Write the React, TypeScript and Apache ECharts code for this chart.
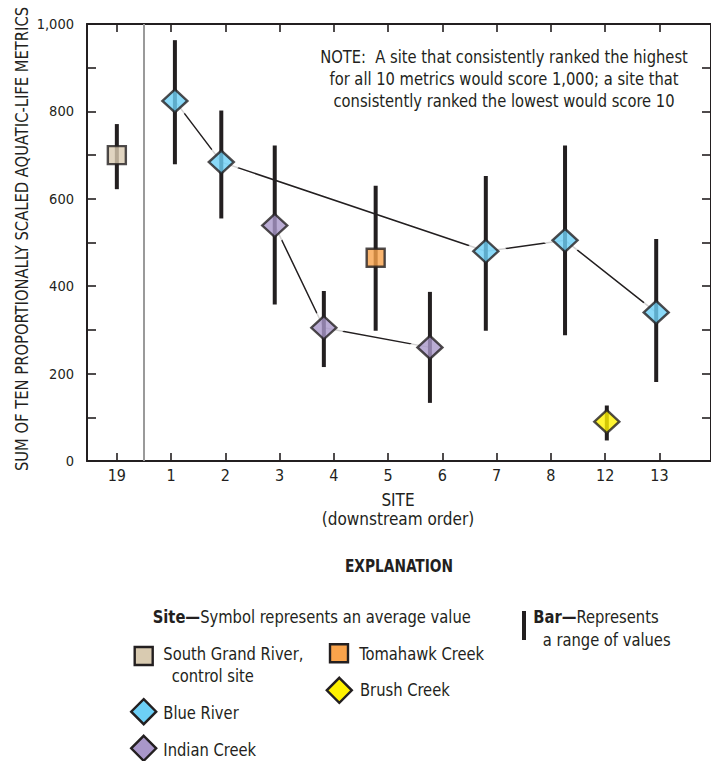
import React, { useEffect, useRef } from 'react';
import * as echarts from 'echarts';

// ---- data ----
const siteLabels = ['19', '1', '2', '3', '4', '5', '6', '7', '8', '12', '13'];
const sitePos = [0, 1.07, 1.925, 2.91, 3.815, 4.77, 5.77, 6.8, 8.26, 9.03, 9.94];
const siteMean = [700, 824, 684, 539, 305, 465, 260, 480, 505, 90, 340];
const siteLow = [622, 679, 555, 358, 215, 298, 133, 298, 288, 47, 181];
const siteHigh = [771, 963, 802, 722, 389, 630, 387, 652, 722, 127, 508];
const siteStream = [
  'South Grand River',
  'Blue River',
  'Blue River',
  'Indian Creek',
  'Indian Creek',
  'Tomahawk Creek',
  'Indian Creek',
  'Blue River',
  'Blue River',
  'Brush Creek',
  'Blue River',
];
const streams = ['South Grand River', 'Blue River', 'Indian Creek', 'Tomahawk Creek', 'Brush Creek'];
const connectedStreams = ['Blue River', 'Indian Creek'];
const yTickValues = [0, 100, 200, 300, 400, 500, 600, 700, 800, 900, 1000];

// ---- styles ----
const INK = '#231f20';
const FONT = "'Liberation Sans Narrow', 'DejaVu Sans Condensed', 'Arial Narrow', sans-serif";
const streamStyle: Record<string, { symbol: string; color: string }> = {
  'South Grand River': { symbol: 'rect', color: '#d9cbb1' },
  'Blue River': { symbol: 'diamond', color: '#6dcff6' },
  'Indian Creek': { symbol: 'diamond', color: '#a997c9' },
  'Tomahawk Creek': { symbol: 'rect', color: '#f9a34b' },
  'Brush Creek': { symbol: 'diamond', color: '#fff200' },
};

const pointsOf = (stream: string) =>
  siteLabels
    .map((_, i) => i)
    .filter((i) => siteStream[i] === stream)
    .map((i) => [sitePos[i], siteMean[i]]);

const LEG = { fontSize: 18, scaleX: 0.91 };
const BOLD_RICH = { b: { fontWeight: 'bold', fontFamily: FONT, fontSize: 18, fill: INK } };

const txt = (text: string, x: number, y: number, opts: any = {}) => ({
  type: 'text',
  x,
  y,
  rotation: opts.rotation || 0,
  scaleX: opts.scaleX || 1,
  silent: true,
  style: {
    text,
    fill: INK,
    fontFamily: FONT,
    fontSize: opts.fontSize || 18,
    fontWeight: opts.fontWeight || 'normal',
    textAlign: opts.align || 'left',
    align: opts.align || 'left',
    textVerticalAlign: opts.vAlign || 'middle',
    verticalAlign: opts.vAlign || 'middle',
    lineHeight: opts.lineHeight,
    rich: opts.rich,
  },
});

const diamond = (cx: number, cy: number, w: number, h: number, color: string) => ({
  type: 'polygon',
  silent: true,
  shape: {
    points: [
      [cx, cy - h / 2],
      [cx + w / 2, cy],
      [cx, cy + h / 2],
      [cx - w / 2, cy],
    ],
  },
  style: { fill: color, stroke: INK, lineWidth: 2.4 },
});

const square = (cx: number, cy: number, s: number, color: string) => ({
  type: 'rect',
  silent: true,
  shape: { x: cx - s / 2, y: cy - s / 2, width: s, height: s },
  style: { fill: color, stroke: INK, lineWidth: 2.4 },
});

export default function App() {
  const ref = useRef<HTMLDivElement>(null);

  useEffect(() => {
    if (!ref.current) return;
    const chart = echarts.init(ref.current, undefined, { renderer: 'svg' });

    const xCommon = {
      type: 'value',
      min: -0.55,
      max: 10.95,
      splitLine: { show: false },
      axisLine: { show: true, onZero: false, lineStyle: { color: INK, width: 2 } },
      axisTick: {
        show: true,
        inside: true,
        length: 8,
        customValues: siteLabels.map((_, i) => i),
        lineStyle: { color: INK, width: 1.6 },
      },
    };
    const yCommon = {
      type: 'value',
      min: 0,
      max: 1000,
      interval: 100,
      splitLine: { show: false },
      axisLine: { show: true, onZero: false, lineStyle: { color: INK, width: 2 } },
      axisTick: {
        show: true,
        inside: true,
        length: 9,
        customValues: yTickValues,
        lineStyle: { color: INK, width: 1.6 },
      },
    };

    const haloData = connectedStreams.flatMap((s) => pointsOf(s));

    const option: any = {
      animation: false,
      grid: { left: 87, top: 24, width: 625, height: 437 },
      xAxis: [
        {
          ...xCommon,
          position: 'bottom',
          axisLabel: {
            show: true,
            customValues: siteLabels.map((_, i) => i),
            formatter: (v: number) => siteLabels[Math.round(v)] ?? '',
            color: INK,
            fontFamily: FONT,
            fontSize: 16,
            margin: 6,
          },
        },
        { ...xCommon, position: 'top', axisLabel: { show: false } },
      ],
      yAxis: [
        {
          ...yCommon,
          position: 'left',
          axisLabel: {
            show: true,
            customValues: yTickValues.filter((v) => v % 200 === 0),
            formatter: (v: number) => (v >= 1000 ? v.toLocaleString('en-US') : String(v)),
            color: INK,
            fontFamily: FONT,
            fontSize: 14.5,
            margin: 13,
          },
        },
        { ...yCommon, position: 'right', axisLabel: { show: false } },
      ],
      series: [
        ...connectedStreams.map((s) => ({
          type: 'line',
          name: s + ' line',
          data: pointsOf(s),
          symbol: 'none',
          silent: true,
          z: 1,
          lineStyle: { color: INK, width: 1.5 },
        })),
        {
          type: 'scatter',
          name: 'halo',
          data: haloData,
          symbol: 'diamond',
          symbolSize: [46, 42],
          silent: true,
          z: 2,
          itemStyle: { color: '#ffffff', borderWidth: 0 },
        },
        {
          type: 'custom',
          name: 'range',
          z: 3,
          silent: true,
          data: sitePos.map((p, i) => [p, siteLow[i], siteHigh[i]]),
          encode: { x: 0, y: [1, 2] },
          renderItem: (params: any, api: any) => {
            const x = api.value(0);
            const top = api.coord([x, api.value(2)]);
            const bot = api.coord([x, api.value(1)]);
            return {
              type: 'rect',
              shape: { x: top[0] - 2, y: top[1], width: 4, height: bot[1] - top[1] },
              style: { fill: INK },
            };
          },
          markLine: {
            silent: true,
            symbol: ['none', 'none'],
            label: { show: false },
            lineStyle: { color: '#9a9a9a', width: 2, type: 'solid' },
            data: [{ xAxis: 0.5 }],
          },
        },
        ...streams.map((s) => ({
          type: 'scatter',
          name: s,
          data: pointsOf(s),
          symbol: streamStyle[s].symbol,
          symbolSize: streamStyle[s].symbol === 'rect' ? [18, 18] : [25, 23],
          silent: true,
          z: 4,
          itemStyle: { color: streamStyle[s].color, borderColor: INK, borderWidth: 2.4 },
        })),
      ],
      graphic: [
        txt('SUM OF TEN PROPORTIONALLY SCALED AQUATIC-LIFE METRICS', 21.5, 239, {
          rotation: Math.PI / 2,
          align: 'center',
          fontSize: 17,
          scaleX: 0.965,
        }),
        txt(
          'NOTE:  A site that consistently ranked the highest\nfor all 10 metrics would score 1,000; a site that\nconsistently ranked the lowest would score 10',
          504,
          46,
          { align: 'center', vAlign: 'top', fontSize: 17, lineHeight: 22.3, scaleX: 0.963 }
        ),
        txt('SITE', 398, 500, { align: 'center', fontSize: 17 }),
        txt('(downstream order)', 398, 519, { align: 'center', fontSize: 17 }),
        txt('EXPLANATION', 399, 566, { align: 'center', fontSize: 17, fontWeight: 'bold', scaleX: 0.9 }),
        txt('{b|Site—}Symbol represents an average value', 152.7, 617, { ...LEG, rich: BOLD_RICH }),
        {
          type: 'rect',
          silent: true,
          shape: { x: 522, y: 611, width: 4, height: 29 },
          style: { fill: INK },
        },
        txt('{b|Bar—}Represents', 533.3, 617, { ...LEG, rich: BOLD_RICH }),
        txt('a range of values', 542.7, 639.5, LEG),
        square(143.7, 656, 18, streamStyle['South Grand River'].color),
        txt('South Grand River,', 163.3, 653.3, LEG),
        txt('control site', 171.7, 676, LEG),
        square(339, 653.3, 18, streamStyle['Tomahawk Creek'].color),
        txt('Tomahawk Creek', 359.3, 653.3, LEG),
        diamond(339.3, 690.3, 25, 25, streamStyle['Brush Creek'].color),
        txt('Brush Creek', 360, 690, LEG),
        diamond(143.7, 711.7, 25, 25, streamStyle['Blue River'].color),
        txt('Blue River', 163.3, 713, LEG),
        diamond(143.7, 748.3, 25, 25, streamStyle['Indian Creek'].color),
        txt('Indian Creek', 163.3, 750, LEG),
      ],
    };

    chart.setOption(option);
    return () => chart.dispose();
  }, []);

  return (
    <div style={{ position: 'fixed', left: 0, top: 0, width: 711, height: 761, overflow: 'hidden', background: '#fff' }}>
      <div ref={ref} style={{ width: 711, height: 761 }} />
    </div>
  );
}
